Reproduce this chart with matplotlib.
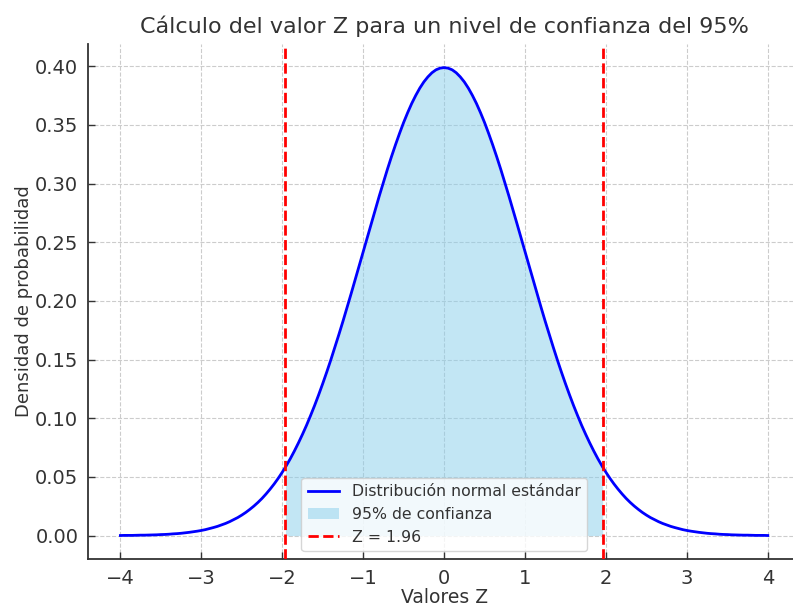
import matplotlib
matplotlib.use("Agg")
import matplotlib.pyplot as plt

# Values (standard normal density shape), including the ±1.96 edges
z_values = [-4.0, -3.95, -3.9, -3.85, -3.8, -3.75, -3.7, -3.65, -3.6, -3.55, -3.5,
            -3.45, -3.4, -3.35, -3.3, -3.25, -3.2, -3.15, -3.1, -3.05, -3.0,
            -2.95, -2.9, -2.85, -2.8, -2.75, -2.7, -2.65, -2.6, -2.55, -2.5,
            -2.45, -2.4, -2.35, -2.3, -2.25, -2.2, -2.15, -2.1, -2.05, -2.0, -1.96,
            -1.95, -1.9, -1.85, -1.8, -1.75, -1.7, -1.65, -1.6, -1.55, -1.5,
            -1.45, -1.4, -1.35, -1.3, -1.25, -1.2, -1.15, -1.1, -1.05, -1.0,
            -0.95, -0.9, -0.85, -0.8, -0.75, -0.7, -0.65, -0.6, -0.55, -0.5,
            -0.45, -0.4, -0.35, -0.3, -0.25, -0.2, -0.15, -0.1, -0.05, 0.0,
            0.05, 0.1, 0.15, 0.2, 0.25, 0.3, 0.35, 0.4, 0.45, 0.5,
            0.55, 0.6, 0.65, 0.7, 0.75, 0.8, 0.85, 0.9, 0.95, 1.0,
            1.05, 1.1, 1.15, 1.2, 1.25, 1.3, 1.35, 1.4, 1.45, 1.5,
            1.55, 1.6, 1.65, 1.7, 1.75, 1.8, 1.85, 1.9, 1.95, 1.96, 2.0,
            2.05, 2.1, 2.15, 2.2, 2.25, 2.3, 2.35, 2.4, 2.45, 2.5,
            2.55, 2.6, 2.65, 2.7, 2.75, 2.8, 2.85, 2.9, 2.95, 3.0,
            3.05, 3.1, 3.15, 3.2, 3.25, 3.3, 3.35, 3.4, 3.45, 3.5,
            3.55, 3.6, 3.65, 3.7, 3.75, 3.8, 3.85, 3.9, 3.95, 4.0]
density = [0.0001, 0.0002, 0.0002, 0.0002, 0.0003, 0.0004, 0.0004, 0.0005, 0.0006, 0.0007, 0.0009,
           0.0010, 0.0012, 0.0015, 0.0017, 0.0020, 0.0024, 0.0028, 0.0033, 0.0038, 0.0044,
           0.0051, 0.0060, 0.0069, 0.0079, 0.0091, 0.0104, 0.0119, 0.0136, 0.0154, 0.0175,
           0.0198, 0.0224, 0.0252, 0.0283, 0.0317, 0.0355, 0.0396, 0.0440, 0.0488, 0.0540, 0.0584,
           0.0596, 0.0656, 0.0721, 0.0790, 0.0863, 0.0940, 0.1023, 0.1109, 0.1200, 0.1295,
           0.1394, 0.1497, 0.1604, 0.1714, 0.1826, 0.1942, 0.2059, 0.2179, 0.2299, 0.2420,
           0.2541, 0.2661, 0.2780, 0.2897, 0.3011, 0.3123, 0.3230, 0.3332, 0.3429, 0.3521,
           0.3605, 0.3683, 0.3752, 0.3814, 0.3867, 0.3910, 0.3945, 0.3970, 0.3984, 0.3989,
           0.3984, 0.3970, 0.3945, 0.3910, 0.3867, 0.3814, 0.3752, 0.3683, 0.3605, 0.3521,
           0.3429, 0.3332, 0.3230, 0.3123, 0.3011, 0.2897, 0.2780, 0.2661, 0.2541, 0.2420,
           0.2299, 0.2179, 0.2059, 0.1942, 0.1826, 0.1714, 0.1604, 0.1497, 0.1394, 0.1295,
           0.1200, 0.1109, 0.1023, 0.0940, 0.0863, 0.0790, 0.0721, 0.0656, 0.0596, 0.0584, 0.0540,
           0.0488, 0.0440, 0.0396, 0.0355, 0.0317, 0.0283, 0.0252, 0.0224, 0.0198, 0.0175,
           0.0154, 0.0136, 0.0119, 0.0104, 0.0091, 0.0079, 0.0069, 0.0060, 0.0051, 0.0044,
           0.0038, 0.0033, 0.0028, 0.0024, 0.0020, 0.0017, 0.0015, 0.0012, 0.0010, 0.0009,
           0.0007, 0.0006, 0.0005, 0.0004, 0.0004, 0.0003, 0.0002, 0.0002, 0.0002, 0.0001]
z_critical = 1.96

x_ticks = [-4, -3, -2, -1, 0, 1, 2, 3, 4]
y_ticks = [0.0, 0.05, 0.10, 0.15, 0.20, 0.25, 0.30, 0.35, 0.40]

title = "Cálculo del valor Z para un nivel de confianza del 95%"
x_label = "Valores Z"
y_label = "Densidad de probabilidad"
label_curve = "Distribución normal estándar"
label_fill = "95% de confianza"
label_z = f"Z = {z_critical}"

text_color = "#333333"
plt.rcParams["font.family"] = ["DejaVu Sans"]

fig = plt.figure(figsize=(7.93, 6.06), dpi=100)
ax = fig.add_axes([0.111, 0.0776, 0.898, 0.8494])

ax.plot(z_values, density, color="blue", lw=2, label=label_curve, zorder=3)
fill_x = [z for z in z_values if -z_critical <= z <= z_critical]
fill_y = [d for z, d in zip(z_values, density) if -z_critical <= z <= z_critical]
ax.fill_between(fill_x, fill_y, color="skyblue", alpha=0.5, lw=0, label=label_fill, zorder=2)
ax.axvline(-z_critical, color="red", ls="--", lw=2, label=label_z, zorder=4)
ax.axvline(z_critical, color="red", ls="--", lw=2, zorder=4)

ax.set_xlim(-4.4, 4.4)
ax.set_ylim(-0.0199, 0.4188)
ax.set_xticks(x_ticks)
ax.set_yticks(y_ticks)
ax.set_yticklabels([f"{v:.2f}" for v in y_ticks])

ax.grid(True, ls="--", color="#cccccc", lw=0.8)
ax.set_axisbelow(True)
for s in ["top", "right"]:
    ax.spines[s].set_visible(False)
for s in ["left", "bottom"]:
    ax.spines[s].set_color(text_color)
    ax.spines[s].set_linewidth(1.3)
ax.tick_params(colors=text_color, labelsize=14, length=5, width=1, direction="in", pad=7)

ax.set_title(title, fontsize=16, color=text_color, pad=8)
ax.set_xlabel(x_label, fontsize=13.5, color=text_color, labelpad=0)
ax.set_ylabel(y_label, fontsize=13, color=text_color)
ax.yaxis.set_label_coords(-0.077, 0.5)

leg = ax.legend(loc="lower center", fontsize=11.3, framealpha=0.8,
                bbox_to_anchor=(0.5, 0.0))
for t in leg.get_texts():
    t.set_color(text_color)

fig.savefig("out.png", dpi=100)
